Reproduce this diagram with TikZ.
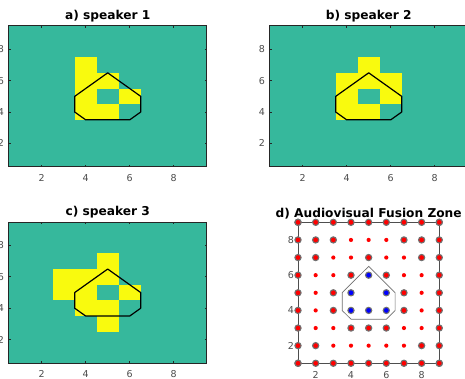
\documentclass[tikz,border=0pt]{standalone}
\usepackage{fontspec}
\setmainfont{DejaVu Sans}
\usepackage{tikz}
\usetikzlibrary{positioning}
\definecolor{tealbg}{RGB}{54,184,156}
\definecolor{yellowcell}{RGB}{249,250,14}
\definecolor{axisgray}{RGB}{38,38,38}
\definecolor{ticklbl}{RGB}{77,77,77}
\definecolor{ringgray}{RGB}{112,112,112}

\tikzset{
  axisbox/.style={draw=axisgray, line width=0.8pt},
  ticklabel/.style={inner sep=0pt, text=ticklbl, font=\fontsize{9.5}{11}\selectfont},
  titletext/.style={inner sep=0pt, anchor=base, font=\fontsize{12.2}{14}\selectfont\bfseries},
  zoneline/.style={draw=black, line width=1.2pt, line join=round},
  zonethin/.style={draw=ringgray, line width=0.7pt},
  ringdot/.style={fill=red, draw=ringgray, line width=1.1pt},
  bluedot/.style={fill=blue, draw=ringgray, line width=1.1pt},
  reddot/.style={fill=red}
}

% outline of the fusion zone, in grid units
\newcommand{\drawzone}[1]{\draw[#1] (3.5,5) -- (5,6.5) -- (6.5,5) -- (6.5,4) -- (6,3.5) -- (4,3.5) -- (3.5,4) -- cycle;}

% one speaker map: #1 shift, #2 title, #3 name, #4 yellow cells
\newcommand{\speakerpanel}[4]{%
  \begin{scope}[shift={#1}, x=22pt, y=15.67pt]
    \fill[tealbg] (0.5,0.5) rectangle (9.5,9.5);
    \foreach \cx/\cy in {#4}
      \fill[yellowcell] (\cx-0.5,\cy-0.5) rectangle ++(1,1);
    \drawzone{zoneline}
    \draw[axisbox] (0.5,0.5) rectangle (9.5,9.5);
    \foreach \t in {2,4,6,8} {
      \draw[axisbox] (\t,0.5) -- ++(0pt,2pt) (\t,9.5) -- ++(0pt,-2pt);
      \draw[axisbox] (0.5,\t) -- ++(2pt,0pt) (9.5,\t) -- ++(-2pt,0pt);
      \node[ticklabel, anchor=north] (#3x\t) at ([yshift=-7.5pt]\t,0.5) {\t};
      \node[ticklabel, anchor=east] (#3y\t) at ([xshift=-4.5pt]0.5,\t) {\t};
    }
    \node[titletext] (#3title) at ([yshift=6.3pt]5,9.5) {#2};
  \end{scope}}

\begin{document}
\begin{tikzpicture}
  \path[use as bounding box, fill=white] (0pt,0pt) rectangle (465pt,379pt);

  \speakerpanel{(-2.3pt,204.3pt)}{a) speaker 1}{spka}{4/4,4/5,4/6,4/7,5/4,5/6,6/5}
  \speakerpanel{(258.7pt,204.3pt)}{b) speaker 2}{spkb}{4/4,4/5,4/6,5/4,5/6,5/7,6/5,6/6}
  \speakerpanel{(-2.3pt,8.1pt)}{c) speaker 3}{spkc}{3/5,3/6,4/4,4/5,4/6,5/3,5/4,5/6,5/7,6/5}

  % d) fusion zone
  \begin{scope}[shift={(280.34pt,-1.9pt)}, x=17.66pt, y=17.62pt]
    \drawzone{zonethin}
    \draw[draw=ringgray!70!black, line width=1pt] (1,1) rectangle (9,9);
    \foreach \px/\py in {4/8,5/8,6/8, 3/7,4/7,6/7,7/7, 2/6,3/6,7/6,8/6,
                         2/5,8/5, 2/4,8/4, 2/3,3/3,7/3,8/3, 3/2,4/2,5/2,6/2,7/2}
      \fill[reddot] (\px,\py) circle (2.1pt);
    \foreach \k in {1,...,9} {
      \filldraw[ringdot] (\k,1) circle (3.1pt);
      \filldraw[ringdot] (\k,9) circle (3.1pt);
      \filldraw[ringdot] (1,\k) circle (3.1pt);
      \filldraw[ringdot] (9,\k) circle (3.1pt);
    }
    \foreach \px/\py in {2/8,3/8,7/8,8/8, 2/7,5/7,8/7, 4/6,6/6, 3/5,7/5,
                         3/4,7/4, 4/3,5/3,6/3, 2/2,8/2}
      \filldraw[ringdot] (\px,\py) circle (3.1pt);
    \foreach \px/\py in {5/6,4/5,6/5,4/4,5/4,6/4}
      \filldraw[bluedot] (\px,\py) circle (3.1pt);
    \foreach \t in {2,4,6,8} {
      \node[ticklabel, anchor=north] (fusx\t) at ([yshift=-8.2pt]\t,1) {\t};
      \node[ticklabel, anchor=east] (fusy\t) at ([xshift=-4pt]1,\t) {\t};
    }
    \node[titletext] (fustitle) at ([yshift=5.3pt]5,9) {d) Audiovisual Fusion Zone};
  \end{scope}
\end{tikzpicture}
\end{document}
